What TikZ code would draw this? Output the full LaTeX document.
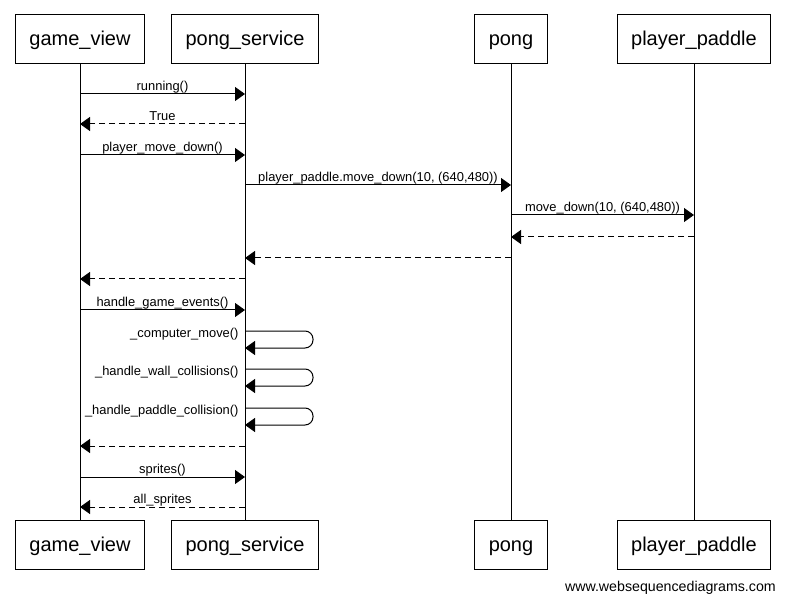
\documentclass[tikz,border=0pt]{standalone}
\usepackage{fontspec}
\setmainfont{Liberation Sans}
\usetikzlibrary{arrows.meta}

% one message between two lifelines at height #4
\newcommand{\Msg}[5][MsgStyle]{%
  \draw[#1] (#2 |- 0,#4) -- node[LabelStyle,anchor=base,yshift=3.5pt]{#5} (#3 |- 0,#4);}
% a call of a lifeline to itself at height #2
\newcommand{\SelfMsg}[3]{%
  \draw[MsgStyle,rounded corners=8pt] (#1 |- 0,#2)
    node[LabelStyle,anchor=base east,xshift=-6pt,yshift=-6.5pt]{#3}
    -- ++(68,0) -- ++(0,17) -- ++(-68,0);}

\begin{document}
\begin{tikzpicture}[x=1pt,y=-1pt,%
  ActorStyle/.style={draw=black,line width=1pt,font=\fontsize{20}{24}\selectfont,
    minimum height=49pt,inner xsep=14pt,text height=16pt,text depth=3pt},
  MsgStyle/.style={line width=1pt,-{Triangle[length=10pt,width=14pt]}},
  ReplyStyle/.style={MsgStyle,dash pattern=on 6pt off 4pt},
  LabelStyle/.style={font=\fontsize{12.9}{15}\selectfont,inner sep=0pt}]
  \useasboundingbox (0,0) rectangle (785,604);
  \node[ActorStyle] (gv)   at (80,39.5)   {game\_view};     % actors at the top
  \node[ActorStyle] (ps)   at (245,39.5)  {pong\_service};
  \node[ActorStyle] (pong) at (511,39.5)  {pong};
  \node[ActorStyle] (pp)   at (694,39.5)  {player\_paddle};
  \node[ActorStyle] (gvb)  at (80,544.5)  {game\_view};     % and again at the bottom
  \node[ActorStyle] (psb)  at (245,544.5) {pong\_service};
  \node[ActorStyle] (pongb) at (511,544.5) {pong};
  \node[ActorStyle] (ppb)  at (694,544.5) {player\_paddle};
  \foreach \a/\b in {gv/gvb,ps/psb,pong/pongb,pp/ppb}
    \draw[line width=1pt] (\a) -- (\b);                  % lifelines
  \Msg{gv}{ps}{94}{running()}
  \Msg[ReplyStyle]{ps}{gv}{124}{True}
  \Msg{gv}{ps}{155}{player\_move\_down()}
  \Msg{ps}{pong}{185}{player\_paddle.move\_down(10, (640,480))}
  \Msg{pong}{pp}{215}{move\_down(10, (640,480))}
  \Msg[ReplyStyle]{pp}{pong}{237}{}
  \Msg[ReplyStyle]{pong}{ps}{258}{}
  \Msg[ReplyStyle]{ps}{gv}{279}{}
  \Msg{gv}{ps}{310}{handle\_game\_events()}
  \SelfMsg{ps}{331}{\_computer\_move()}
  \SelfMsg{ps}{369}{\_handle\_wall\_collisions()}
  \SelfMsg{ps}{408}{\_handle\_paddle\_collision()}
  \Msg[ReplyStyle]{ps}{gv}{446}{}
  \Msg{gv}{ps}{477}{sprites()}
  \Msg[ReplyStyle]{ps}{gv}{507}{all\_sprites}
  \node[anchor=east,inner sep=0pt,font=\fontsize{14.2}{16}\selectfont] (site)
    at (776,588) {www.websequencediagrams.com};
\end{tikzpicture}
\end{document}
